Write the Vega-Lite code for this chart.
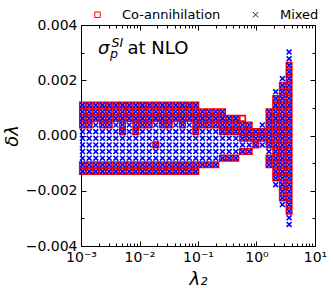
{
"$schema":"https://vega.github.io/schema/vega-lite/v6.json",
"width":234,"height":221,
"autosize":{"type":"none"},
"padding":{"left":81,"top":25,"right":18,"bottom":42},
"background":"white",
"config":{"font":"DejaVu Sans","view":{"stroke":"black","strokeWidth":1},
"axis":{"domainColor":"black","domainWidth":1,"tickColor":"black","tickWidth":1,"labelColor":"black","labelFont":"DejaVu Sans","labelFontSize":14,"titleFont":"DejaVu Sans","titleFontSize":18,"titleFontWeight":"normal","titleColor":"black","grid":false,"labelOverlap":false,"labelFlush":false}},
"datasets":{
"co":[
{"x":0.00106,"y":0.0011},{"x":0.00106,"y":0.00086},{"x":0.00106,"y":0.00062},{"x":0.00106,"y":0.00038},{"x":0.00106,"y":-0.00106},{"x":0.00106,"y":-0.0013},
{"x":0.00138,"y":0.0011},{"x":0.00138,"y":0.00086},{"x":0.00138,"y":0.00062},{"x":0.00138,"y":0.00038},{"x":0.00138,"y":-0.00106},{"x":0.00138,"y":-0.0013},
{"x":0.00179,"y":0.0011},{"x":0.00179,"y":0.00086},{"x":0.00179,"y":0.00062},{"x":0.00179,"y":-0.00106},{"x":0.00179,"y":-0.0013},
{"x":0.00233,"y":0.0011},{"x":0.00233,"y":0.00086},{"x":0.00233,"y":0.00062},{"x":0.00233,"y":0.00038},{"x":0.00233,"y":-0.00106},{"x":0.00233,"y":-0.0013},
{"x":0.00303,"y":0.0011},{"x":0.00303,"y":0.00086},{"x":0.00303,"y":0.00062},{"x":0.00303,"y":0.00038},{"x":0.00303,"y":-0.00106},{"x":0.00303,"y":-0.0013},
{"x":0.00394,"y":0.0011},{"x":0.00394,"y":0.00086},{"x":0.00394,"y":0.00062},{"x":0.00394,"y":-0.00106},{"x":0.00394,"y":-0.0013},
{"x":0.00512,"y":0.0011},{"x":0.00512,"y":0.00086},{"x":0.00512,"y":0.00062},{"x":0.00512,"y":0.00038},{"x":0.00512,"y":0.00014},{"x":0.00512,"y":-0.00106},{"x":0.00512,"y":-0.0013},
{"x":0.00667,"y":0.0011},{"x":0.00667,"y":0.00086},{"x":0.00667,"y":0.00062},{"x":0.00667,"y":-0.00106},{"x":0.00667,"y":-0.0013},
{"x":0.00865,"y":0.0011},{"x":0.00865,"y":0.00086},{"x":0.00865,"y":0.00062},{"x":0.00865,"y":0.00038},{"x":0.00865,"y":0.00014},{"x":0.00865,"y":-0.00106},{"x":0.00865,"y":-0.0013},
{"x":0.01125,"y":0.0011},{"x":0.01125,"y":0.00086},{"x":0.01125,"y":0.00062},{"x":0.01125,"y":0.00038},{"x":0.01125,"y":-0.00106},{"x":0.01125,"y":-0.0013},
{"x":0.01466,"y":0.0011},{"x":0.01466,"y":0.00086},{"x":0.01466,"y":0.00062},{"x":0.01466,"y":0.00038},{"x":0.01466,"y":-0.00106},{"x":0.01466,"y":-0.0013},
{"x":0.019,"y":0.0011},{"x":0.019,"y":0.00086},{"x":0.019,"y":0.00062},{"x":0.019,"y":-0.00034},{"x":0.019,"y":-0.00106},{"x":0.019,"y":-0.0013},
{"x":0.0247,"y":0.0011},{"x":0.0247,"y":0.00086},{"x":0.0247,"y":0.00062},{"x":0.0247,"y":0.00038},{"x":0.0247,"y":-0.00106},{"x":0.0247,"y":-0.0013},
{"x":0.0322,"y":0.0011},{"x":0.0322,"y":0.00086},{"x":0.0322,"y":0.00062},{"x":0.0322,"y":0.00038},{"x":0.0322,"y":-0.00106},{"x":0.0322,"y":-0.0013},
{"x":0.0418,"y":0.0011},{"x":0.0418,"y":0.00086},{"x":0.0418,"y":0.00062},{"x":0.0418,"y":-0.00106},{"x":0.0418,"y":-0.0013},
{"x":0.0543,"y":0.0011},{"x":0.0543,"y":0.00086},{"x":0.0543,"y":0.00062},{"x":0.0543,"y":0.00038},{"x":0.0543,"y":-0.00106},{"x":0.0543,"y":-0.0013},
{"x":0.0708,"y":0.0011},{"x":0.0708,"y":0.00086},{"x":0.0708,"y":0.00062},{"x":0.0708,"y":-0.00106},{"x":0.0708,"y":-0.0013},
{"x":0.0917,"y":0.0011},{"x":0.0917,"y":0.00086},{"x":0.0917,"y":0.00062},{"x":0.0917,"y":0.00038},{"x":0.0917,"y":0.00014},{"x":0.0917,"y":-0.00106},{"x":0.0917,"y":-0.0013},
{"x":0.1194,"y":0.00086},{"x":0.1194,"y":0.00062},{"x":0.1194,"y":0.00038},{"x":0.1194,"y":-0.00106},
{"x":0.1552,"y":0.00086},{"x":0.1552,"y":0.00062},{"x":0.1552,"y":0.00038},{"x":0.1552,"y":-0.00106},
{"x":0.2014,"y":0.00086},{"x":0.2014,"y":0.00062},{"x":0.2014,"y":0.00038},{"x":0.2014,"y":-0.00106},
{"x":0.2624,"y":0.00086},{"x":0.2624,"y":0.00062},{"x":0.2624,"y":0.00038},{"x":0.2624,"y":0.00014},{"x":0.2624,"y":-0.00082},
{"x":0.341,"y":0.00062},{"x":0.341,"y":0.00038},{"x":0.341,"y":0.00014},{"x":0.341,"y":-0.00082},
{"x":0.443,"y":0.00062},{"x":0.443,"y":0.00038},{"x":0.443,"y":0.00014},{"x":0.443,"y":-0.00082},
{"x":0.577,"y":0.00062},{"x":0.577,"y":0.00038},{"x":0.577,"y":0.00014},{"x":0.577,"y":-0.0001},{"x":0.577,"y":-0.00058},
{"x":0.75,"y":0.00038},{"x":0.75,"y":0.00014},{"x":0.75,"y":-0.0001},{"x":0.75,"y":-0.00058},
{"x":0.973,"y":0.00014},{"x":0.973,"y":-0.0001},{"x":0.973,"y":-0.00034},
{"x":1.256,"y":0.00014},{"x":1.256,"y":-0.0001},
{"x":1.636,"y":0.00086},{"x":1.636,"y":0.00062},{"x":1.636,"y":0.00038},{"x":1.636,"y":0.00014},{"x":1.636,"y":-0.0001},{"x":1.636,"y":-0.00034},{"x":1.636,"y":-0.00082},{"x":1.636,"y":-0.00106},
{"x":2.13,"y":0.00134},{"x":2.13,"y":0.0011},{"x":2.13,"y":0.00086},{"x":2.13,"y":0.00062},{"x":2.13,"y":0.00038},{"x":2.13,"y":0.00014},{"x":2.13,"y":-0.0001},{"x":2.13,"y":-0.00034},{"x":2.13,"y":-0.00058},{"x":2.13,"y":-0.00082},{"x":2.13,"y":-0.00106},{"x":2.13,"y":-0.0013},{"x":2.13,"y":-0.00154},
{"x":2.773,"y":0.00182},{"x":2.773,"y":0.00158},{"x":2.773,"y":0.00134},{"x":2.773,"y":0.0011},{"x":2.773,"y":0.00086},{"x":2.773,"y":0.00062},{"x":2.773,"y":0.00038},{"x":2.773,"y":0.00014},{"x":2.773,"y":-0.0001},{"x":2.773,"y":-0.00034},{"x":2.773,"y":-0.00058},{"x":2.773,"y":-0.00082},{"x":2.773,"y":-0.00106},{"x":2.773,"y":-0.0013},{"x":2.773,"y":-0.00154},{"x":2.773,"y":-0.00178},{"x":2.773,"y":-0.00202},{"x":2.773,"y":-0.00226},
{"x":3.607,"y":0.00254},{"x":3.607,"y":0.0023},{"x":3.607,"y":0.00206},{"x":3.607,"y":0.00182},{"x":3.607,"y":0.00158},{"x":3.607,"y":0.00134},{"x":3.607,"y":0.0011},{"x":3.607,"y":0.00086},{"x":3.607,"y":0.00062},{"x":3.607,"y":0.00038},{"x":3.607,"y":0.00014},{"x":3.607,"y":-0.0001},{"x":3.607,"y":-0.00034},{"x":3.607,"y":-0.00058},{"x":3.607,"y":-0.00082},{"x":3.607,"y":-0.00106},{"x":3.607,"y":-0.0013},{"x":3.607,"y":-0.00154},{"x":3.607,"y":-0.00178},{"x":3.607,"y":-0.00202},{"x":3.607,"y":-0.00226},{"x":3.607,"y":-0.0025},{"x":3.607,"y":-0.00274}
],
"mx":[
{"x":0.00106,"y":0.0011},{"x":0.00106,"y":0.00086},{"x":0.00106,"y":0.00062},{"x":0.00106,"y":0.00038},{"x":0.00106,"y":0.00014},{"x":0.00106,"y":-0.0001},{"x":0.00106,"y":-0.00034},{"x":0.00106,"y":-0.00058},{"x":0.00106,"y":-0.00082},{"x":0.00106,"y":-0.00106},{"x":0.00106,"y":-0.0013},
{"x":0.00138,"y":0.0011},{"x":0.00138,"y":0.00086},{"x":0.00138,"y":0.00062},{"x":0.00138,"y":0.00038},{"x":0.00138,"y":0.00014},{"x":0.00138,"y":-0.0001},{"x":0.00138,"y":-0.00034},{"x":0.00138,"y":-0.00058},{"x":0.00138,"y":-0.00082},{"x":0.00138,"y":-0.00106},{"x":0.00138,"y":-0.0013},
{"x":0.00179,"y":0.0011},{"x":0.00179,"y":0.00086},{"x":0.00179,"y":0.00062},{"x":0.00179,"y":0.00038},{"x":0.00179,"y":0.00014},{"x":0.00179,"y":-0.0001},{"x":0.00179,"y":-0.00034},{"x":0.00179,"y":-0.00058},{"x":0.00179,"y":-0.00082},{"x":0.00179,"y":-0.00106},{"x":0.00179,"y":-0.0013},
{"x":0.00233,"y":0.0011},{"x":0.00233,"y":0.00086},{"x":0.00233,"y":0.00062},{"x":0.00233,"y":0.00038},{"x":0.00233,"y":0.00014},{"x":0.00233,"y":-0.0001},{"x":0.00233,"y":-0.00034},{"x":0.00233,"y":-0.00058},{"x":0.00233,"y":-0.00082},{"x":0.00233,"y":-0.00106},{"x":0.00233,"y":-0.0013},
{"x":0.00303,"y":0.0011},{"x":0.00303,"y":0.00086},{"x":0.00303,"y":0.00062},{"x":0.00303,"y":0.00038},{"x":0.00303,"y":0.00014},{"x":0.00303,"y":-0.0001},{"x":0.00303,"y":-0.00034},{"x":0.00303,"y":-0.00058},{"x":0.00303,"y":-0.00082},{"x":0.00303,"y":-0.00106},{"x":0.00303,"y":-0.0013},
{"x":0.00394,"y":0.0011},{"x":0.00394,"y":0.00086},{"x":0.00394,"y":0.00062},{"x":0.00394,"y":0.00038},{"x":0.00394,"y":0.00014},{"x":0.00394,"y":-0.0001},{"x":0.00394,"y":-0.00034},{"x":0.00394,"y":-0.00058},{"x":0.00394,"y":-0.00082},{"x":0.00394,"y":-0.00106},{"x":0.00394,"y":-0.0013},
{"x":0.00512,"y":0.0011},{"x":0.00512,"y":0.00086},{"x":0.00512,"y":0.00062},{"x":0.00512,"y":0.00038},{"x":0.00512,"y":0.00014},{"x":0.00512,"y":-0.0001},{"x":0.00512,"y":-0.00034},{"x":0.00512,"y":-0.00058},{"x":0.00512,"y":-0.00082},{"x":0.00512,"y":-0.00106},{"x":0.00512,"y":-0.0013},
{"x":0.00667,"y":0.0011},{"x":0.00667,"y":0.00086},{"x":0.00667,"y":0.00062},{"x":0.00667,"y":0.00038},{"x":0.00667,"y":0.00014},{"x":0.00667,"y":-0.0001},{"x":0.00667,"y":-0.00034},{"x":0.00667,"y":-0.00058},{"x":0.00667,"y":-0.00082},{"x":0.00667,"y":-0.00106},{"x":0.00667,"y":-0.0013},
{"x":0.00865,"y":0.0011},{"x":0.00865,"y":0.00086},{"x":0.00865,"y":0.00062},{"x":0.00865,"y":0.00038},{"x":0.00865,"y":0.00014},{"x":0.00865,"y":-0.0001},{"x":0.00865,"y":-0.00034},{"x":0.00865,"y":-0.00058},{"x":0.00865,"y":-0.00082},{"x":0.00865,"y":-0.00106},{"x":0.00865,"y":-0.0013},
{"x":0.01125,"y":0.0011},{"x":0.01125,"y":0.00086},{"x":0.01125,"y":0.00062},{"x":0.01125,"y":0.00038},{"x":0.01125,"y":0.00014},{"x":0.01125,"y":-0.0001},{"x":0.01125,"y":-0.00034},{"x":0.01125,"y":-0.00058},{"x":0.01125,"y":-0.00082},{"x":0.01125,"y":-0.00106},{"x":0.01125,"y":-0.0013},
{"x":0.01466,"y":0.0011},{"x":0.01466,"y":0.00086},{"x":0.01466,"y":0.00062},{"x":0.01466,"y":0.00038},{"x":0.01466,"y":0.00014},{"x":0.01466,"y":-0.0001},{"x":0.01466,"y":-0.00034},{"x":0.01466,"y":-0.00058},{"x":0.01466,"y":-0.00082},{"x":0.01466,"y":-0.00106},{"x":0.01466,"y":-0.0013},
{"x":0.019,"y":0.0011},{"x":0.019,"y":0.00086},{"x":0.019,"y":0.00062},{"x":0.019,"y":0.00038},{"x":0.019,"y":0.00014},{"x":0.019,"y":-0.0001},{"x":0.019,"y":-0.00034},{"x":0.019,"y":-0.00058},{"x":0.019,"y":-0.00082},{"x":0.019,"y":-0.00106},{"x":0.019,"y":-0.0013},
{"x":0.0247,"y":0.0011},{"x":0.0247,"y":0.00086},{"x":0.0247,"y":0.00062},{"x":0.0247,"y":0.00038},{"x":0.0247,"y":0.00014},{"x":0.0247,"y":-0.0001},{"x":0.0247,"y":-0.00034},{"x":0.0247,"y":-0.00058},{"x":0.0247,"y":-0.00082},{"x":0.0247,"y":-0.00106},{"x":0.0247,"y":-0.0013},
{"x":0.0322,"y":0.0011},{"x":0.0322,"y":0.00086},{"x":0.0322,"y":0.00062},{"x":0.0322,"y":0.00038},{"x":0.0322,"y":0.00014},{"x":0.0322,"y":-0.0001},{"x":0.0322,"y":-0.00034},{"x":0.0322,"y":-0.00058},{"x":0.0322,"y":-0.00082},{"x":0.0322,"y":-0.00106},{"x":0.0322,"y":-0.0013},
{"x":0.0418,"y":0.0011},{"x":0.0418,"y":0.00086},{"x":0.0418,"y":0.00062},{"x":0.0418,"y":0.00038},{"x":0.0418,"y":0.00014},{"x":0.0418,"y":-0.0001},{"x":0.0418,"y":-0.00034},{"x":0.0418,"y":-0.00058},{"x":0.0418,"y":-0.00082},{"x":0.0418,"y":-0.00106},{"x":0.0418,"y":-0.0013},
{"x":0.0543,"y":0.0011},{"x":0.0543,"y":0.00086},{"x":0.0543,"y":0.00062},{"x":0.0543,"y":0.00038},{"x":0.0543,"y":0.00014},{"x":0.0543,"y":-0.0001},{"x":0.0543,"y":-0.00034},{"x":0.0543,"y":-0.00058},{"x":0.0543,"y":-0.00082},{"x":0.0543,"y":-0.00106},{"x":0.0543,"y":-0.0013},
{"x":0.0708,"y":0.0011},{"x":0.0708,"y":0.00086},{"x":0.0708,"y":0.00062},{"x":0.0708,"y":0.00038},{"x":0.0708,"y":0.00014},{"x":0.0708,"y":-0.0001},{"x":0.0708,"y":-0.00034},{"x":0.0708,"y":-0.00058},{"x":0.0708,"y":-0.00082},{"x":0.0708,"y":-0.00106},{"x":0.0708,"y":-0.0013},
{"x":0.0917,"y":0.0011},{"x":0.0917,"y":0.00086},{"x":0.0917,"y":0.00062},{"x":0.0917,"y":0.00038},{"x":0.0917,"y":0.00014},{"x":0.0917,"y":-0.0001},{"x":0.0917,"y":-0.00034},{"x":0.0917,"y":-0.00058},{"x":0.0917,"y":-0.00082},{"x":0.0917,"y":-0.00106},{"x":0.0917,"y":-0.0013},
{"x":0.1194,"y":0.00086},{"x":0.1194,"y":0.00062},{"x":0.1194,"y":0.00038},{"x":0.1194,"y":0.00014},{"x":0.1194,"y":-0.0001},{"x":0.1194,"y":-0.00034},{"x":0.1194,"y":-0.00058},{"x":0.1194,"y":-0.00082},{"x":0.1194,"y":-0.00106},
{"x":0.1552,"y":0.00086},{"x":0.1552,"y":0.00062},{"x":0.1552,"y":0.00038},{"x":0.1552,"y":0.00014},{"x":0.1552,"y":-0.0001},{"x":0.1552,"y":-0.00034},{"x":0.1552,"y":-0.00058},{"x":0.1552,"y":-0.00082},{"x":0.1552,"y":-0.00106},
{"x":0.2014,"y":0.00086},{"x":0.2014,"y":0.00062},{"x":0.2014,"y":0.00038},{"x":0.2014,"y":0.00014},{"x":0.2014,"y":-0.0001},{"x":0.2014,"y":-0.00034},{"x":0.2014,"y":-0.00058},{"x":0.2014,"y":-0.00082},{"x":0.2014,"y":-0.00106},
{"x":0.2624,"y":0.00086},{"x":0.2624,"y":0.00062},{"x":0.2624,"y":0.00038},{"x":0.2624,"y":0.00014},{"x":0.2624,"y":-0.0001},{"x":0.2624,"y":-0.00034},{"x":0.2624,"y":-0.00058},{"x":0.2624,"y":-0.00082},
{"x":0.341,"y":0.00062},{"x":0.341,"y":0.00038},{"x":0.341,"y":0.00014},{"x":0.341,"y":-0.0001},{"x":0.341,"y":-0.00034},{"x":0.341,"y":-0.00058},{"x":0.341,"y":-0.00082},
{"x":0.443,"y":0.00062},{"x":0.443,"y":0.00038},{"x":0.443,"y":0.00014},{"x":0.443,"y":-0.0001},{"x":0.443,"y":-0.00034},{"x":0.443,"y":-0.00058},{"x":0.443,"y":-0.00082},
{"x":0.577,"y":0.00038},{"x":0.577,"y":0.00014},{"x":0.577,"y":-0.0001},{"x":0.577,"y":-0.00034},{"x":0.577,"y":-0.00058},
{"x":0.75,"y":0.00038},{"x":0.75,"y":0.00014},{"x":0.75,"y":-0.0001},{"x":0.75,"y":-0.00034},{"x":0.75,"y":-0.00058},
{"x":0.973,"y":0.00014},{"x":0.973,"y":-0.0001},{"x":0.973,"y":-0.00034},
{"x":1.256,"y":0.00038},{"x":1.256,"y":0.00014},{"x":1.256,"y":-0.0001},{"x":1.256,"y":-0.00034},
{"x":1.636,"y":0.00086},{"x":1.636,"y":0.00062},{"x":1.636,"y":0.00038},{"x":1.636,"y":0.00014},{"x":1.636,"y":-0.0001},{"x":1.636,"y":-0.00034},{"x":1.636,"y":-0.00058},{"x":1.636,"y":-0.00082},{"x":1.636,"y":-0.00106},
{"x":2.13,"y":0.00158},{"x":2.13,"y":0.00134},{"x":2.13,"y":0.0011},{"x":2.13,"y":0.00086},{"x":2.13,"y":0.00062},{"x":2.13,"y":0.00038},{"x":2.13,"y":0.00014},{"x":2.13,"y":-0.0001},{"x":2.13,"y":-0.00034},{"x":2.13,"y":-0.00058},{"x":2.13,"y":-0.00082},{"x":2.13,"y":-0.00106},{"x":2.13,"y":-0.0013},{"x":2.13,"y":-0.00154},{"x":2.13,"y":-0.00178},
{"x":2.773,"y":0.00206},{"x":2.773,"y":0.00182},{"x":2.773,"y":0.00158},{"x":2.773,"y":0.00134},{"x":2.773,"y":0.0011},{"x":2.773,"y":0.00086},{"x":2.773,"y":0.00062},{"x":2.773,"y":0.00038},{"x":2.773,"y":0.00014},{"x":2.773,"y":-0.0001},{"x":2.773,"y":-0.00034},{"x":2.773,"y":-0.00058},{"x":2.773,"y":-0.00082},{"x":2.773,"y":-0.00106},{"x":2.773,"y":-0.0013},{"x":2.773,"y":-0.00154},{"x":2.773,"y":-0.00178},{"x":2.773,"y":-0.00202},{"x":2.773,"y":-0.00226},{"x":2.773,"y":-0.0025},
{"x":3.607,"y":0.00302},{"x":3.607,"y":0.00278},{"x":3.607,"y":0.00254},{"x":3.607,"y":0.0023},{"x":3.607,"y":0.00206},{"x":3.607,"y":0.00182},{"x":3.607,"y":0.00158},{"x":3.607,"y":0.00134},{"x":3.607,"y":0.0011},{"x":3.607,"y":0.00086},{"x":3.607,"y":0.00062},{"x":3.607,"y":0.00038},{"x":3.607,"y":0.00014},{"x":3.607,"y":-0.0001},{"x":3.607,"y":-0.00034},{"x":3.607,"y":-0.00058},{"x":3.607,"y":-0.00082},{"x":3.607,"y":-0.00106},{"x":3.607,"y":-0.0013},{"x":3.607,"y":-0.00154},{"x":3.607,"y":-0.00178},{"x":3.607,"y":-0.00202},{"x":3.607,"y":-0.00226},{"x":3.607,"y":-0.0025},{"x":3.607,"y":-0.00274},{"x":3.607,"y":-0.00298},{"x":3.607,"y":-0.00322}
]},
"layer":[
{"data":{"name":"co"},
 "mark":{"type":"point","filled":false,"strokeWidth":1.6,"size":30,"opacity":1},
 "encoding":{
  "x":{"field":"x","type":"quantitative","scale":{"type":"log","domain":[0.001,10],"nice":false},
   "axis":{"orient":"bottom","values":[0.001,0.002,0.003,0.004,0.005,0.006,0.007,0.008,0.009,0.01,0.02,0.03,0.04,0.05,0.06,0.07,0.08,0.09,0.1,0.2,0.3,0.4,0.5,0.6,0.7,0.8,0.9,1,2,3,4,5,6,7,8,9,10],
    "labelExpr":"abs(log(datum.value)/LN10 - round(log(datum.value)/LN10)) < 0.001 ? '10' + ['⁻³','⁻²','⁻¹','⁰','¹'][round(log(datum.value)/LN10)+3] : ''",
    "tickSize":{"condition":{"test":"abs(log(datum.value)/LN10 - round(log(datum.value)/LN10)) < 0.001","value":-5},"value":-3},
    "labelPadding":9,"title":"λ₂","titleFontStyle":"italic","titlePadding":4}},
  "y":{"field":"y","type":"quantitative","scale":{"domain":[-0.004,0.004],"nice":false,"zero":false},
   "axis":{"orient":"left","values":[-0.004,-0.003,-0.002,-0.001,0,0.001,0.002,0.003,0.004],"format":".3f",
    "labelExpr":"abs(round(datum.value*1000)) % 2 == 0 ? datum.label : ''",
    "tickSize":{"condition":{"test":"abs(round(datum.value*1000)) % 2 == 0","value":-5},"value":-3},
    "labelPadding":9,"title":"δλ","titleFontStyle":"italic","titlePadding":4}},
  "color":{"datum":"Co-annihilation","type":"nominal","scale":{"domain":["Co-annihilation","Mixed"],"range":["#ff0000","#0000ff"]},
   "legend":{"title":null,"orient":"none","legendX":10,"legendY":-17,"direction":"horizontal","labelFontSize":13,"labelFont":"DejaVu Sans","labelColor":"black","symbolSize":30,"symbolStrokeWidth":1,"labelOffset":18,"columnPadding":28}},
  "shape":{"datum":"Co-annihilation","type":"nominal","scale":{"domain":["Co-annihilation","Mixed"],"range":["square","M-1,-1L1,1M-1,1L1,-1"]},
   "legend":{"title":null,"orient":"none","legendX":10,"legendY":-17,"direction":"horizontal","labelFontSize":13,"labelFont":"DejaVu Sans","labelColor":"black","symbolSize":30,"symbolStrokeWidth":1,"labelOffset":18,"columnPadding":28}}
 }},
{"data":{"name":"mx"},
 "mark":{"type":"point","filled":false,"strokeWidth":1.6,"size":24,"opacity":1},
 "encoding":{
  "x":{"field":"x","type":"quantitative",
   "axis":{"orient":"top","values":[0.001,0.002,0.003,0.004,0.005,0.006,0.007,0.008,0.009,0.01,0.02,0.03,0.04,0.05,0.06,0.07,0.08,0.09,0.1,0.2,0.3,0.4,0.5,0.6,0.7,0.8,0.9,1,2,3,4,5,6,7,8,9,10],"labels":false,"title":null,
    "tickSize":{"condition":{"test":"abs(log(datum.value)/LN10 - round(log(datum.value)/LN10)) < 0.001","value":-5},"value":-3}}},
  "y":{"field":"y","type":"quantitative",
   "axis":{"orient":"right","values":[-0.004,-0.003,-0.002,-0.001,0,0.001,0.002,0.003,0.004],"labels":false,"title":null,
    "tickSize":{"condition":{"test":"abs(round(datum.value*1000)) % 2 == 0","value":-5},"value":-3}}},
  "color":{"datum":"Mixed","type":"nominal"},
  "shape":{"datum":"Mixed","type":"nominal"}
 }},
{"data":{"values":[{}]},"mark":{"type":"text","text":"σ","font":"DejaVu Sans","fontSize":18,"fontStyle":"italic","align":"left","baseline":"alphabetic","color":"black"},
 "encoding":{"x":{"datum":0.00195,"type":"quantitative","axis":null},"y":{"datum":0.00294,"type":"quantitative","axis":null}}},
{"data":{"values":[{}]},"mark":{"type":"text","text":"SI","font":"DejaVu Sans","fontSize":12.6,"fontStyle":"italic","align":"left","baseline":"alphabetic","color":"black","dx":13.5,"dy":-7.5},
 "encoding":{"x":{"datum":0.00195,"type":"quantitative","axis":null},"y":{"datum":0.00294,"type":"quantitative","axis":null}}},
{"data":{"values":[{}]},"mark":{"type":"text","text":"p","font":"DejaVu Sans","fontSize":12.6,"fontStyle":"italic","align":"left","baseline":"alphabetic","color":"black","dx":12,"dy":3.5},
 "encoding":{"x":{"datum":0.00195,"type":"quantitative","axis":null},"y":{"datum":0.00294,"type":"quantitative","axis":null}}},
{"data":{"values":[{}]},"mark":{"type":"text","text":"at NLO","font":"DejaVu Sans","fontSize":18,"align":"left","baseline":"alphabetic","color":"black","dx":29.5},
 "encoding":{"x":{"datum":0.00195,"type":"quantitative","axis":null},"y":{"datum":0.00294,"type":"quantitative","axis":null}}}
],
"resolve":{"axis":{"x":"independent","y":"independent"}}
}
